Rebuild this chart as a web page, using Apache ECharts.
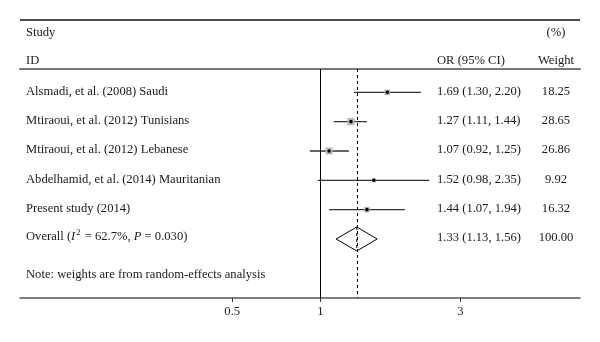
<!DOCTYPE html>
<html><head><meta charset="utf-8">
<script src="https://cdn.jsdelivr.net/npm/echarts@6/dist/echarts.min.js"></script>
<style>html,body{margin:0;padding:0;background:#fff}#c{width:600px;height:342px}</style>
</head><body><div id="c"></div>
<script>
const studies = ["Alsmadi, et al. (2008) Saudi","Mtiraoui, et al. (2012) Tunisians","Mtiraoui, et al. (2012) Lebanese","Abdelhamid, et al. (2014) Mauritanian","Present study (2014)"];
const orValues = [1.69, 1.27, 1.07, 1.52, 1.44];
const ciLow = [1.30, 1.11, 0.92, 0.98, 1.07];
const ciHigh = [2.20, 1.44, 1.25, 2.35, 1.94];
const weights = [18.25, 28.65, 26.86, 9.92, 16.32];
const overall = {or: 1.33, lo: 1.13, hi: 1.56, weight: 100.00};
const xTicks = [0.5, 1, 3];
const noteText = "Note: weights are from random-effects analysis";

const FONT = '"Liberation Serif", "DejaVu Serif", serif';
const FS = 12.6;
const TXT = '#1a1a1a';
const fmt2 = v => v.toFixed(2);

const rowData = studies.map((s, i) => [orValues[i], i, ciLow[i], ciHigh[i], weights[i]]);

const chart = echarts.init(document.getElementById('c'), null, {renderer: 'canvas'});

function textEl(text, x, y, align) {
  return {type: 'text', style: {text: text, x: x, y: y, textAlign: align || 'left', textVerticalAlign: 'middle',
    fontSize: FS, fontFamily: FONT, fill: TXT}};
}

const option = {
  animation: false,
  grid: {left: 20, right: 20, top: 69, bottom: 44},
  xAxis: [{
    type: 'log', min: 0.0945, max: 7.67, position: 'bottom',
    axisLine: {show: true, onZero: false, lineStyle: {color: '#555', width: 1.5}},
    axisTick: {show: true, length: 4, lineStyle: {color: '#333'}, customValues: xTicks},
    axisLabel: {customValues: xTicks, margin: 7, color: TXT, fontSize: FS, fontFamily: FONT, formatter: v => String(v)},
    splitLine: {show: false}
  }, {
    type: 'log', min: 0.0945, max: 7.67, position: 'top',
    axisLine: {show: true, onZero: false, lineStyle: {color: '#777', width: 2}},
    axisTick: {show: false}, axisLabel: {show: false}, splitLine: {show: false}
  }],
  yAxis: {type: 'value', inverse: true, min: -0.794, max: 7.011, show: false},
  graphic: [
    {type: 'line', shape: {x1: 20, y1: 20, x2: 580, y2: 20}, style: {stroke: '#111', lineWidth: 1.5}},
    textEl('Study', 26, 33),
    textEl('(%)', 556, 33, 'center'),
    textEl('ID', 26, 61),
    textEl('OR (95% CI)', 437, 61),
    textEl('Weight', 556, 61, 'center')
  ],
  series: [{
    type: 'custom',
    xAxisIndex: 0,
    data: rowData,
    encode: {x: [0, 2, 3], y: 1},
    renderItem: function (params, api) {
      const or = api.value(0), row = api.value(1), lo = api.value(2), hi = api.value(3), w = api.value(4);
      const p = api.coord([or, row]);
      const pl = api.coord([lo, row]);
      const ph = api.coord([hi, row]);
      const s = 1.36 * Math.sqrt(w);
      const i = params.dataIndex;
      return {type: 'group', children: [
        {type: 'line', shape: {x1: pl[0], y1: p[1], x2: ph[0], y2: p[1]}, style: {stroke: '#333', lineWidth: 1.3}},
        {type: 'rect', shape: {x: p[0] - s / 2, y: p[1] - s / 2, width: s, height: s}, style: {fill: '#b8b8b8'}},
        {type: 'circle', shape: {cx: p[0], cy: p[1], r: 1.8}, style: {fill: '#000'}},
        textEl(studies[i], 26, p[1] - 1),
        textEl(fmt2(or) + ' (' + fmt2(lo) + ', ' + fmt2(hi) + ')', 437, p[1] - 1),
        textEl(fmt2(w), 556, p[1] - 1, 'center')
      ]};
    },
    markLine: {
      silent: true, symbol: 'none', label: {show: false}, animation: false,
      data: [
        {xAxis: 1, lineStyle: {color: '#000', width: 1, type: 'solid'}},
        {xAxis: overall.or, lineStyle: {color: '#000', width: 1, type: [3, 3]}}
      ]
    },
    z: 3
  }, {
    type: 'custom',
    xAxisIndex: 0,
    data: [[overall.or, 5, overall.lo, overall.hi, overall.weight], [overall.or, 6.2, overall.lo, overall.hi, 0]],
    encode: {x: [0, 2, 3], y: 1},
    renderItem: function (params, api) {
      const or = api.value(0), row = api.value(1), lo = api.value(2), hi = api.value(3), w = api.value(4);
      const p = api.coord([or, row]);
      if (params.dataIndex === 1) {
        return {type: 'group', children: [textEl(noteText, 26, p[1])]};
      }
      const pl = api.coord([lo, row]);
      const ph = api.coord([hi, row]);
      const h = 12;
      return {type: 'group', children: [
        {type: 'polygon', shape: {points: [[pl[0], p[1]], [p[0], p[1] - h], [ph[0], p[1]], [p[0], p[1] + h]]},
          style: {fill: '#fff', stroke: '#000', lineWidth: 1}},
        {type: 'line', shape: {x1: p[0], y1: p[1] - h, x2: p[0], y2: p[1] + h}, style: {stroke: '#000', lineWidth: 1, lineDash: [3, 3]}},
        {type: 'text', style: {
          text: 'Overall ({i|I}{sup|2} = 62.7%, {i|P} = 0.030)', x: 26, y: p[1] - 2, textAlign: 'left', textVerticalAlign: 'middle',
          fontSize: FS, fontFamily: FONT, fill: TXT,
          rich: {
            i: {fontSize: FS, fontFamily: FONT, fontStyle: 'italic', fill: TXT},
            sup: {fontSize: 8.5, lineHeight: 9, fontFamily: FONT, fill: TXT, padding: [0, 1, 9, 1]}
          }
        }},
        textEl(fmt2(or) + ' (' + fmt2(lo) + ', ' + fmt2(hi) + ')', 437, p[1] - 1),
        textEl(w.toFixed(2), 556, p[1] - 1, 'center')
      ]};
    },
    z: 4
  }]
};
chart.setOption(option);
</script>
</body></html>
